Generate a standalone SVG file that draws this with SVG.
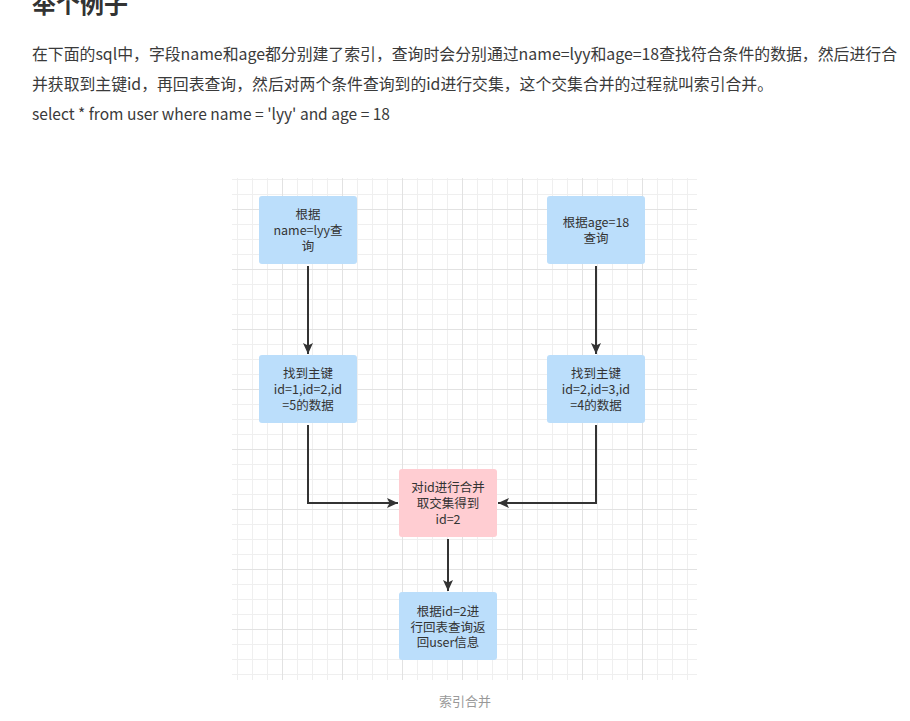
<svg xmlns="http://www.w3.org/2000/svg" width="910" height="721" viewBox="0 0 910 721">
<style>
.h{font-family:"Noto Sans CJK SC","Liberation Sans",sans-serif;font-weight:bold;font-size:24px;fill:#333}
.p{font-family:"Noto Sans CJK SC","Liberation Sans",sans-serif;font-size:16px;fill:#3a3a3a}
.t{font-family:"Noto Sans CJK SC","Liberation Sans",sans-serif;font-size:12.5px;fill:#333;text-anchor:middle}
.cap{font-family:"Noto Sans CJK SC","Liberation Sans",sans-serif;font-size:13px;fill:#999;text-anchor:middle}
.blue{fill:#bbdefb}
.pink{fill:#ffcdd2}
.edge{fill:none;stroke:#333;stroke-width:2}
</style>
<defs>
<pattern id="grid" patternUnits="userSpaceOnUse" x="282" y="209" width="60" height="60">
<rect x="0" y="0" width="60" height="60" fill="#fff"/>
<rect x="15" y="0" width="1" height="60" fill="#efefef"/>
<rect x="30" y="0" width="1" height="60" fill="#efefef"/>
<rect x="45" y="0" width="1" height="60" fill="#efefef"/>
<rect x="0" y="15" width="60" height="1" fill="#efefef"/>
<rect x="0" y="30" width="60" height="1" fill="#efefef"/>
<rect x="0" y="45" width="60" height="1" fill="#efefef"/>
<rect x="0" y="0" width="1" height="60" fill="#e2e2e2"/>
<rect x="0" y="0" width="60" height="1" fill="#e2e2e2"/>
</pattern>
<marker id="arr" markerUnits="userSpaceOnUse" markerWidth="13" markerHeight="13" viewBox="0 0 13 13" refX="12" refY="6.5" orient="auto">
<path d="M1,1.5 L12,6.5 L1,11.5 L3.5,6.5 Z" fill="#333"/>
</marker>
</defs>
<rect width="910" height="721" fill="#fff"/>
<text class="h" x="32" y="13">举个例子</text>
<text class="p" x="32" y="60" textLength="865" lengthAdjust="spacingAndGlyphs">在下面的sql中，字段name和age都分别建了索引，查询时会分别通过name=lyy和age=18查找符合条件的数据，然后进行合</text>
<text class="p" x="32" y="90" textLength="741" lengthAdjust="spacingAndGlyphs">并获取到主键id，再回表查询，然后对两个条件查询到的id进行交集，这个交集合并的过程就叫索引合并。</text>
<text class="p" x="32" y="120" textLength="358" lengthAdjust="spacingAndGlyphs">select * from user where name = 'lyy' and age = 18</text>
<rect x="232" y="178" width="465" height="502" fill="url(#grid)"/>
<g id="connectors">
<path class="edge" d="M308,266 L308,354" marker-end="url(#arr)"/>
<path class="edge" d="M596,266 L596,354" marker-end="url(#arr)"/>
<path class="edge" d="M308,425 L308,503 L398,503" marker-end="url(#arr)"/>
<path class="edge" d="M596,425 L596,503 L498,503" marker-end="url(#arr)"/>
<path class="edge" d="M448,539 L448,591" marker-end="url(#arr)"/>
</g>
<g id="n1">
<rect class="blue" x="259" y="196" width="98" height="68" rx="3"/>
<text class="t" x="308" y="218.5">根据</text>
<text class="t" x="308" y="234.5">name=lyy查</text>
<text class="t" x="308" y="250.5">询</text>
</g>
<g id="n2">
<rect class="blue" x="547" y="196" width="98" height="68" rx="3"/>
<text class="t" x="596" y="226.5">根据age=18</text>
<text class="t" x="596" y="242.5">查询</text>
</g>
<g id="n3">
<rect class="blue" x="259" y="355" width="98" height="68" rx="3"/>
<text class="t" x="308" y="377.5">找到主键</text>
<text class="t" x="308" y="393.5">id=1,id=2,id</text>
<text class="t" x="308" y="409.5">=5的数据</text>
</g>
<g id="n4">
<rect class="blue" x="547" y="355" width="98" height="68" rx="3"/>
<text class="t" x="596" y="377.5">找到主键</text>
<text class="t" x="596" y="393.5">id=2,id=3,id</text>
<text class="t" x="596" y="409.5">=4的数据</text>
</g>
<g id="n5">
<rect class="pink" x="399" y="469" width="98" height="68" rx="3"/>
<text class="t" x="448" y="492">对id进行合并</text>
<text class="t" x="448" y="508">取交集得到</text>
<text class="t" x="448" y="524">id=2</text>
</g>
<g id="n6">
<rect class="blue" x="399" y="592" width="98" height="68" rx="3"/>
<text class="t" x="448" y="615.5">根据id=2进</text>
<text class="t" x="448" y="631.5">行回表查询返</text>
<text class="t" x="448" y="647">回user信息</text>
</g>
<text class="cap" x="465" y="706">索引合并</text>
</svg>
